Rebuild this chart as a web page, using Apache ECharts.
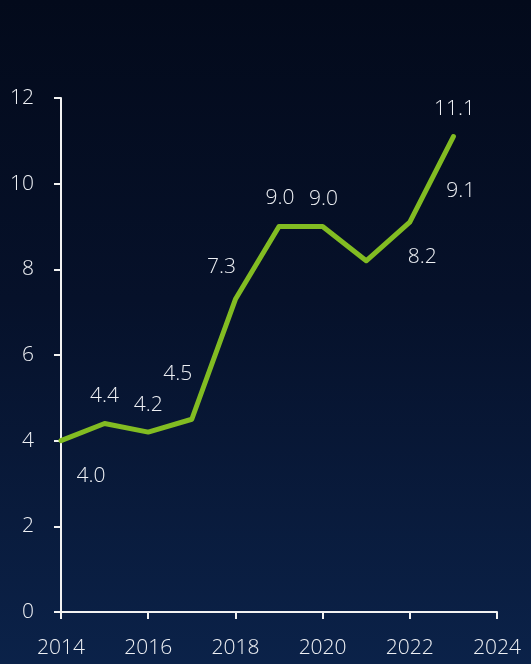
<!DOCTYPE html>
<html>
<head>
<meta charset="utf-8">
<script src="https://cdn.jsdelivr.net/npm/echarts@6/dist/echarts.min.js"></script>
<style>
  html, body { margin: 0; padding: 0; }
  body { width: 531px; height: 664px; background: linear-gradient(to bottom, #030a1b 0%, #06112a 45%, #0b2249 100%); }
  #chart { width: 531px; height: 664px; }
</style>
</head>
<body>
<div id="chart"></div>
<script>
// Annual values
const years = [2014, 2015, 2016, 2017, 2018, 2019, 2020, 2021, 2022, 2023];
const values = [4.0, 4.4, 4.2, 4.5, 7.3, 9.0, 9.0, 8.2, 9.1, 11.1];
// Label offsets (px) from each point to keep labels clear of the line
const labelOffsets = [[30, 35], [0, -28], [0, -27], [-14, -45], [-14, -32], [1, -28], [1, -27], [56, -4], [51, -31], [1, -28]];

const xTicks = { min: 2014, max: 2024, interval: 2 };
const yTicks = { min: 0, max: 12, interval: 2 };

const textColor = '#eef0f4';
const fontFamily = '"Open Sans", "Noto Sans", sans-serif';
const fontSize = 21;
const fontWeight = 300;

const chart = echarts.init(document.getElementById('chart'), null, { renderer: 'canvas' });

const seriesData = years.map((y, i) => ({
  value: [y, values[i]],
  label: { offset: labelOffsets[i] }
}));

chart.setOption({
  backgroundColor: 'transparent',
  animation: false,
  grid: { left: 61, right: 34, top: 98, bottom: 52 },
  xAxis: {
    type: 'value',
    min: xTicks.min, max: xTicks.max, interval: xTicks.interval,
    axisLine: { show: true, lineStyle: { color: '#f2f2f2', width: 2 } },
    axisTick: { show: true, length: 7, lineStyle: { color: '#f2f2f2', width: 2 } },
    splitLine: { show: false },
    axisLabel: { color: textColor, fontSize, fontWeight, fontFamily, margin: 26, formatter: v => String(v) }
  },
  yAxis: {
    type: 'value',
    min: yTicks.min, max: yTicks.max, interval: yTicks.interval,
    axisLine: { show: true, lineStyle: { color: '#f2f2f2', width: 2 } },
    axisTick: { show: true, length: 7, lineStyle: { color: '#f2f2f2', width: 2 } },
    splitLine: { show: false },
    axisLabel: { color: textColor, fontSize, fontWeight, fontFamily, margin: 27 }
  },
  series: [{
    type: 'line',
    data: seriesData,
    symbol: 'circle',
    symbolSize: 2,
    itemStyle: { color: 'rgba(0,0,0,0)', borderWidth: 0 },
    lineStyle: { color: '#82bc22', width: 5, cap: 'round', join: 'round' },
    label: {
      show: true,
      position: 'inside',
      align: 'center',
      verticalAlign: 'middle',
      color: textColor,
      fontSize,
      fontWeight,
      fontFamily,
      formatter: p => p.value[1].toFixed(1)
    }
  }]
});
</script>
</body>
</html>
